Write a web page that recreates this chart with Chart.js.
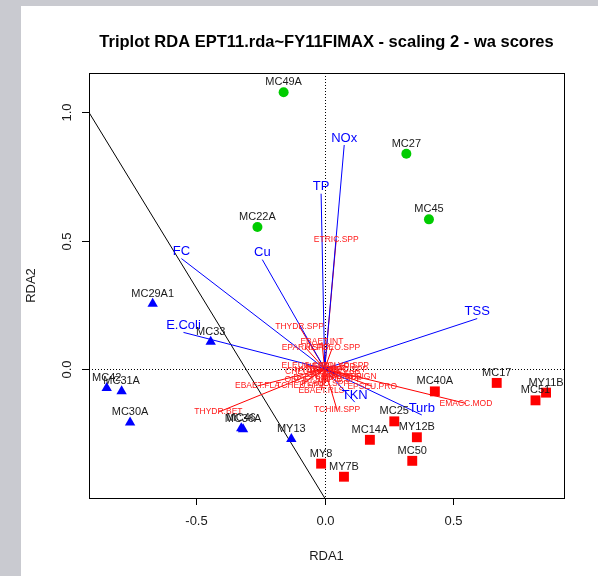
<!DOCTYPE html>
<html lang="en">
<head>
    <meta charset="UTF-8">
    <title>Triplot RDA</title>
    <script src="https://cdn.jsdelivr.net/npm/chart.js"></script>
    <style>
        body { margin: 0; background: #ffffff; }
        canvas { display: block; }
    </style>
</head>
<body>
    <canvas id="triplot" width="598" height="576"></canvas>

    <script>
        // sites, group 1 (green circles)
        const circleSites = ['MC49A', 'MC22A', 'MC27', 'MC45'];
        const circleX = [-0.160, -0.262, 0.318, 0.406];
        const circleY = [1.079, 0.553, 0.839, 0.583];

        // sites, group 2 (blue triangles)
        const triangleSites = ['MC29A1', 'MC33', 'MC42', 'MC31A', 'MC30A', 'MC46', 'MC36A', 'MY13'];
        const triangleX = [-0.670, -0.444, -0.849, -0.791, -0.758, -0.325, -0.318, -0.130];
        const triangleY = [0.254, 0.106, -0.075, -0.088, -0.209, -0.232, -0.236, -0.274];

        // sites, group 3 (red squares)
        const squareSites = ['MY8', 'MY7B', 'MC14A', 'MC25', 'MY12B', 'MC50', 'MC40A', 'MC17', 'MC51', 'MY11B'];
        const squareX = [-0.014, 0.075, 0.176, 0.271, 0.359, 0.341, 0.429, 0.670, 0.821, 0.862];
        const squareY = [-0.370, -0.421, -0.277, -0.205, -0.267, -0.359, -0.088, -0.055, -0.123, -0.093];

        // environmental vectors (blue)
        const envNames = ['NOx', 'TP', 'FC', 'Cu', 'E.Coli', 'TSS', 'Turb', 'TKN'];
        const envX = [0.076, -0.014, -0.558, -0.243, -0.550, 0.594, 0.378, 0.117];
        const envY = [0.873, 0.683, 0.430, 0.426, 0.142, 0.196, -0.180, -0.130];

        // species vectors (red)
        const spNames = ['ETRIC.SPP', 'THYDR.SPP', 'EBAET.INT', 'EPARA.SPP', 'HEPGEO.SPP', 'TCHIM.SPP',
            'THYDR.BET', 'EMACC.MOD', 'EBAET.FLA', 'TCHEU.SPP', 'EBAET.RLS', 'HYDPS.SIGN', 'EPSEU.PRO',
            'NEOPH.SPP', 'CHEUM.SPP', 'HYDRO.SPP', 'BAETI.SPP', 'LEPID.SPP', 'ELEUC.SPP', 'TRICO.SPP', 'PLAUD.SPP',
            'HYDRP.SPP', 'CERAT.SPP', 'OECET.SPP', 'POLYC.SPP'];
        const spX = [0.045, -0.098, -0.011, -0.075, 0.030, 0.048,
            -0.414, 0.550, -0.262, -0.095, -0.013, 0.100, 0.185,
            0.022, -0.056, 0.041, -0.037, 0.060, -0.075, 0.080, 0.002,
            -0.025, 0.053, -0.064, 0.080];
        const spY = [0.505, 0.164, 0.104, 0.083, 0.083, -0.160,
            -0.169, -0.135, -0.067, -0.064, -0.084, -0.029, -0.068,
            0.010, -0.010, -0.018, -0.033, -0.041, 0.014, -0.002, -0.056,
            -0.002, -0.029, -0.041, 0.014];

        // black reference line
        const refLineX = [-0.918, 0.0];
        const refLineY = [1.0, -0.504];

        // axes
        const xRange = [-0.918, 0.932];
        const yRange = [-0.504, 1.154];
        const xTicks = [-0.5, 0.0, 0.5];
        const xTickLabels = ['-0.5', '0.0', '0.5'];
        const yTicks = [0.0, 0.5, 1.0];
        const yTickLabels = ['0.0', '0.5', '1.0'];

        const FONT = '"Liberation Sans", Arial, Helvetica, sans-serif';

        const toPoints = (xs, ys) => xs.map((x, i) => ({ x: x, y: ys[i] }));

        const datasets = [];

        datasets.push({
            type: 'scatter', data: toPoints(circleX, circleY),
            pointStyle: 'circle', pointRadius: 5,
            backgroundColor: '#00cc00', borderColor: '#00cc00', borderWidth: 0
        });
        datasets.push({
            type: 'scatter', data: toPoints(triangleX, triangleY),
            pointStyle: 'triangle', pointRadius: 6,
            backgroundColor: '#0000ff', borderColor: '#0000ff', borderWidth: 0
        });
        datasets.push({
            type: 'scatter', data: toPoints(squareX, squareY),
            pointStyle: 'rect', pointRadius: 7,
            backgroundColor: '#ff0000', borderColor: '#ff0000', borderWidth: 0
        });

        envNames.forEach((n, i) => {
            datasets.push({
                type: 'line', data: [{ x: 0, y: 0 }, { x: envX[i], y: envY[i] }],
                borderColor: '#0000ff', borderWidth: 1, pointRadius: 0, fill: false
            });
        });

        spNames.forEach((n, i) => {
            datasets.push({
                type: 'line', data: [{ x: 0, y: 0 }, { x: spX[i], y: spY[i] }],
                borderColor: '#ff0000', borderWidth: 1, pointRadius: 0, fill: false
            });
        });

        datasets.push({
            type: 'line', data: toPoints(refLineX, refLineY),
            borderColor: '#000000', borderWidth: 1, pointRadius: 0, fill: false
        });

        // page background (photo strip at the left/top)
        const backgroundPlugin = {
            id: 'background',
            beforeDraw(chart) {
                const ctx = chart.ctx;
                ctx.save();
                ctx.fillStyle = '#ffffff';
                ctx.fillRect(0, 0, chart.width, chart.height);
                ctx.fillStyle = '#c9cad0';
                ctx.fillRect(0, 0, 21, chart.height);
                ctx.fillRect(0, 0, chart.width, 6);
                ctx.restore();
            }
        };

        // dotted zero lines
        const zeroLinesPlugin = {
            id: 'zeroLines',
            beforeDatasetsDraw(chart) {
                const ctx = chart.ctx, a = chart.chartArea;
                const x0 = Math.round(chart.scales.x.getPixelForValue(0)) + 0.5;
                const y0 = Math.round(chart.scales.y.getPixelForValue(0)) + 0.5;
                ctx.save();
                ctx.strokeStyle = '#000000';
                ctx.lineWidth = 1;
                ctx.setLineDash([1, 2]);
                ctx.beginPath();
                ctx.moveTo(x0, a.top);
                ctx.lineTo(x0, a.bottom);
                ctx.moveTo(a.left, y0);
                ctx.lineTo(a.right, y0);
                ctx.stroke();
                ctx.restore();
            }
        };

        // text labels for sites and vectors
        const labelPlugin = {
            id: 'labels',
            afterDatasetsDraw(chart) {
                const ctx = chart.ctx, xs = chart.scales.x, ys = chart.scales.y;
                ctx.save();
                ctx.textAlign = 'center';
                ctx.textBaseline = 'middle';

                ctx.font = '8.5px ' + FONT;
                ctx.fillStyle = '#ff1a1a';
                spNames.forEach((n, i) => {
                    ctx.fillText(n, xs.getPixelForValue(spX[i]), ys.getPixelForValue(spY[i]));
                });

                ctx.font = '13px ' + FONT;
                ctx.fillStyle = '#0000ff';
                envNames.forEach((n, i) => {
                    ctx.fillText(n, xs.getPixelForValue(envX[i]), ys.getPixelForValue(envY[i]) - 7);
                });

                ctx.font = '11px ' + FONT;
                ctx.fillStyle = '#1a1a1a';
                const siteLabels = (names, xv, yv) => names.forEach((n, i) => {
                    ctx.fillText(n, xs.getPixelForValue(xv[i]), ys.getPixelForValue(yv[i]) - 10);
                });
                siteLabels(circleSites, circleX, circleY);
                siteLabels(triangleSites, triangleX, triangleY);
                siteLabels(squareSites, squareX, squareY);
                ctx.restore();
            }
        };

        // box, axes, titles (R base graphics look)
        const framePlugin = {
            id: 'frame',
            afterDraw(chart) {
                const ctx = chart.ctx, a = chart.chartArea, xs = chart.scales.x, ys = chart.scales.y;
                ctx.save();
                ctx.strokeStyle = '#000000';
                ctx.lineWidth = 1;
                ctx.strokeRect(Math.round(a.left) + 0.5, Math.round(a.top) + 0.5,
                    Math.round(a.right - a.left), Math.round(a.bottom - a.top));

                ctx.fillStyle = '#1a1a1a';
                ctx.font = '13px ' + FONT;
                ctx.textAlign = 'center';
                ctx.textBaseline = 'middle';

                ctx.beginPath();
                xTicks.forEach((t, i) => {
                    const px = Math.round(xs.getPixelForValue(t)) + 0.5;
                    ctx.moveTo(px, a.bottom);
                    ctx.lineTo(px, a.bottom + 7);
                    ctx.fillText(xTickLabels[i], px, 521);
                });
                yTicks.forEach((t, i) => {
                    const py = Math.round(ys.getPixelForValue(t)) + 0.5;
                    ctx.moveTo(a.left, py);
                    ctx.lineTo(a.left - 7, py);
                    ctx.save();
                    ctx.translate(67, py);
                    ctx.rotate(-Math.PI / 2);
                    ctx.fillText(yTickLabels[i], 0, 0);
                    ctx.restore();
                });
                ctx.stroke();

                ctx.fillText('RDA1', (a.left + a.right) / 2, 556);
                ctx.save();
                ctx.translate(31, (a.top + a.bottom) / 2);
                ctx.rotate(-Math.PI / 2);
                ctx.fillText('RDA2', 0, 0);
                ctx.restore();

                ctx.font = 'bold 16.5px ' + FONT;
                ctx.fillStyle = '#000000';
                ctx.fillText('Triplot RDA EPT11.rda~FY11FIMAX - scaling 2 - wa scores', (a.left + a.right) / 2, 42);
                ctx.restore();
            }
        };

        new Chart(document.getElementById('triplot').getContext('2d'), {
            type: 'scatter',
            data: { datasets: datasets },
            options: {
                responsive: false,
                animation: false,
                devicePixelRatio: 1,
                layout: { padding: { left: 89, right: 34, top: 73, bottom: 78 } },
                plugins: {
                    legend: { display: false },
                    tooltip: { enabled: false },
                    title: { display: false }
                },
                scales: {
                    x: { type: 'linear', min: xRange[0], max: xRange[1], display: false },
                    y: { type: 'linear', min: yRange[0], max: yRange[1], display: false }
                }
            },
            plugins: [backgroundPlugin, zeroLinesPlugin, labelPlugin, framePlugin]
        });
    </script>
</body>
</html>
